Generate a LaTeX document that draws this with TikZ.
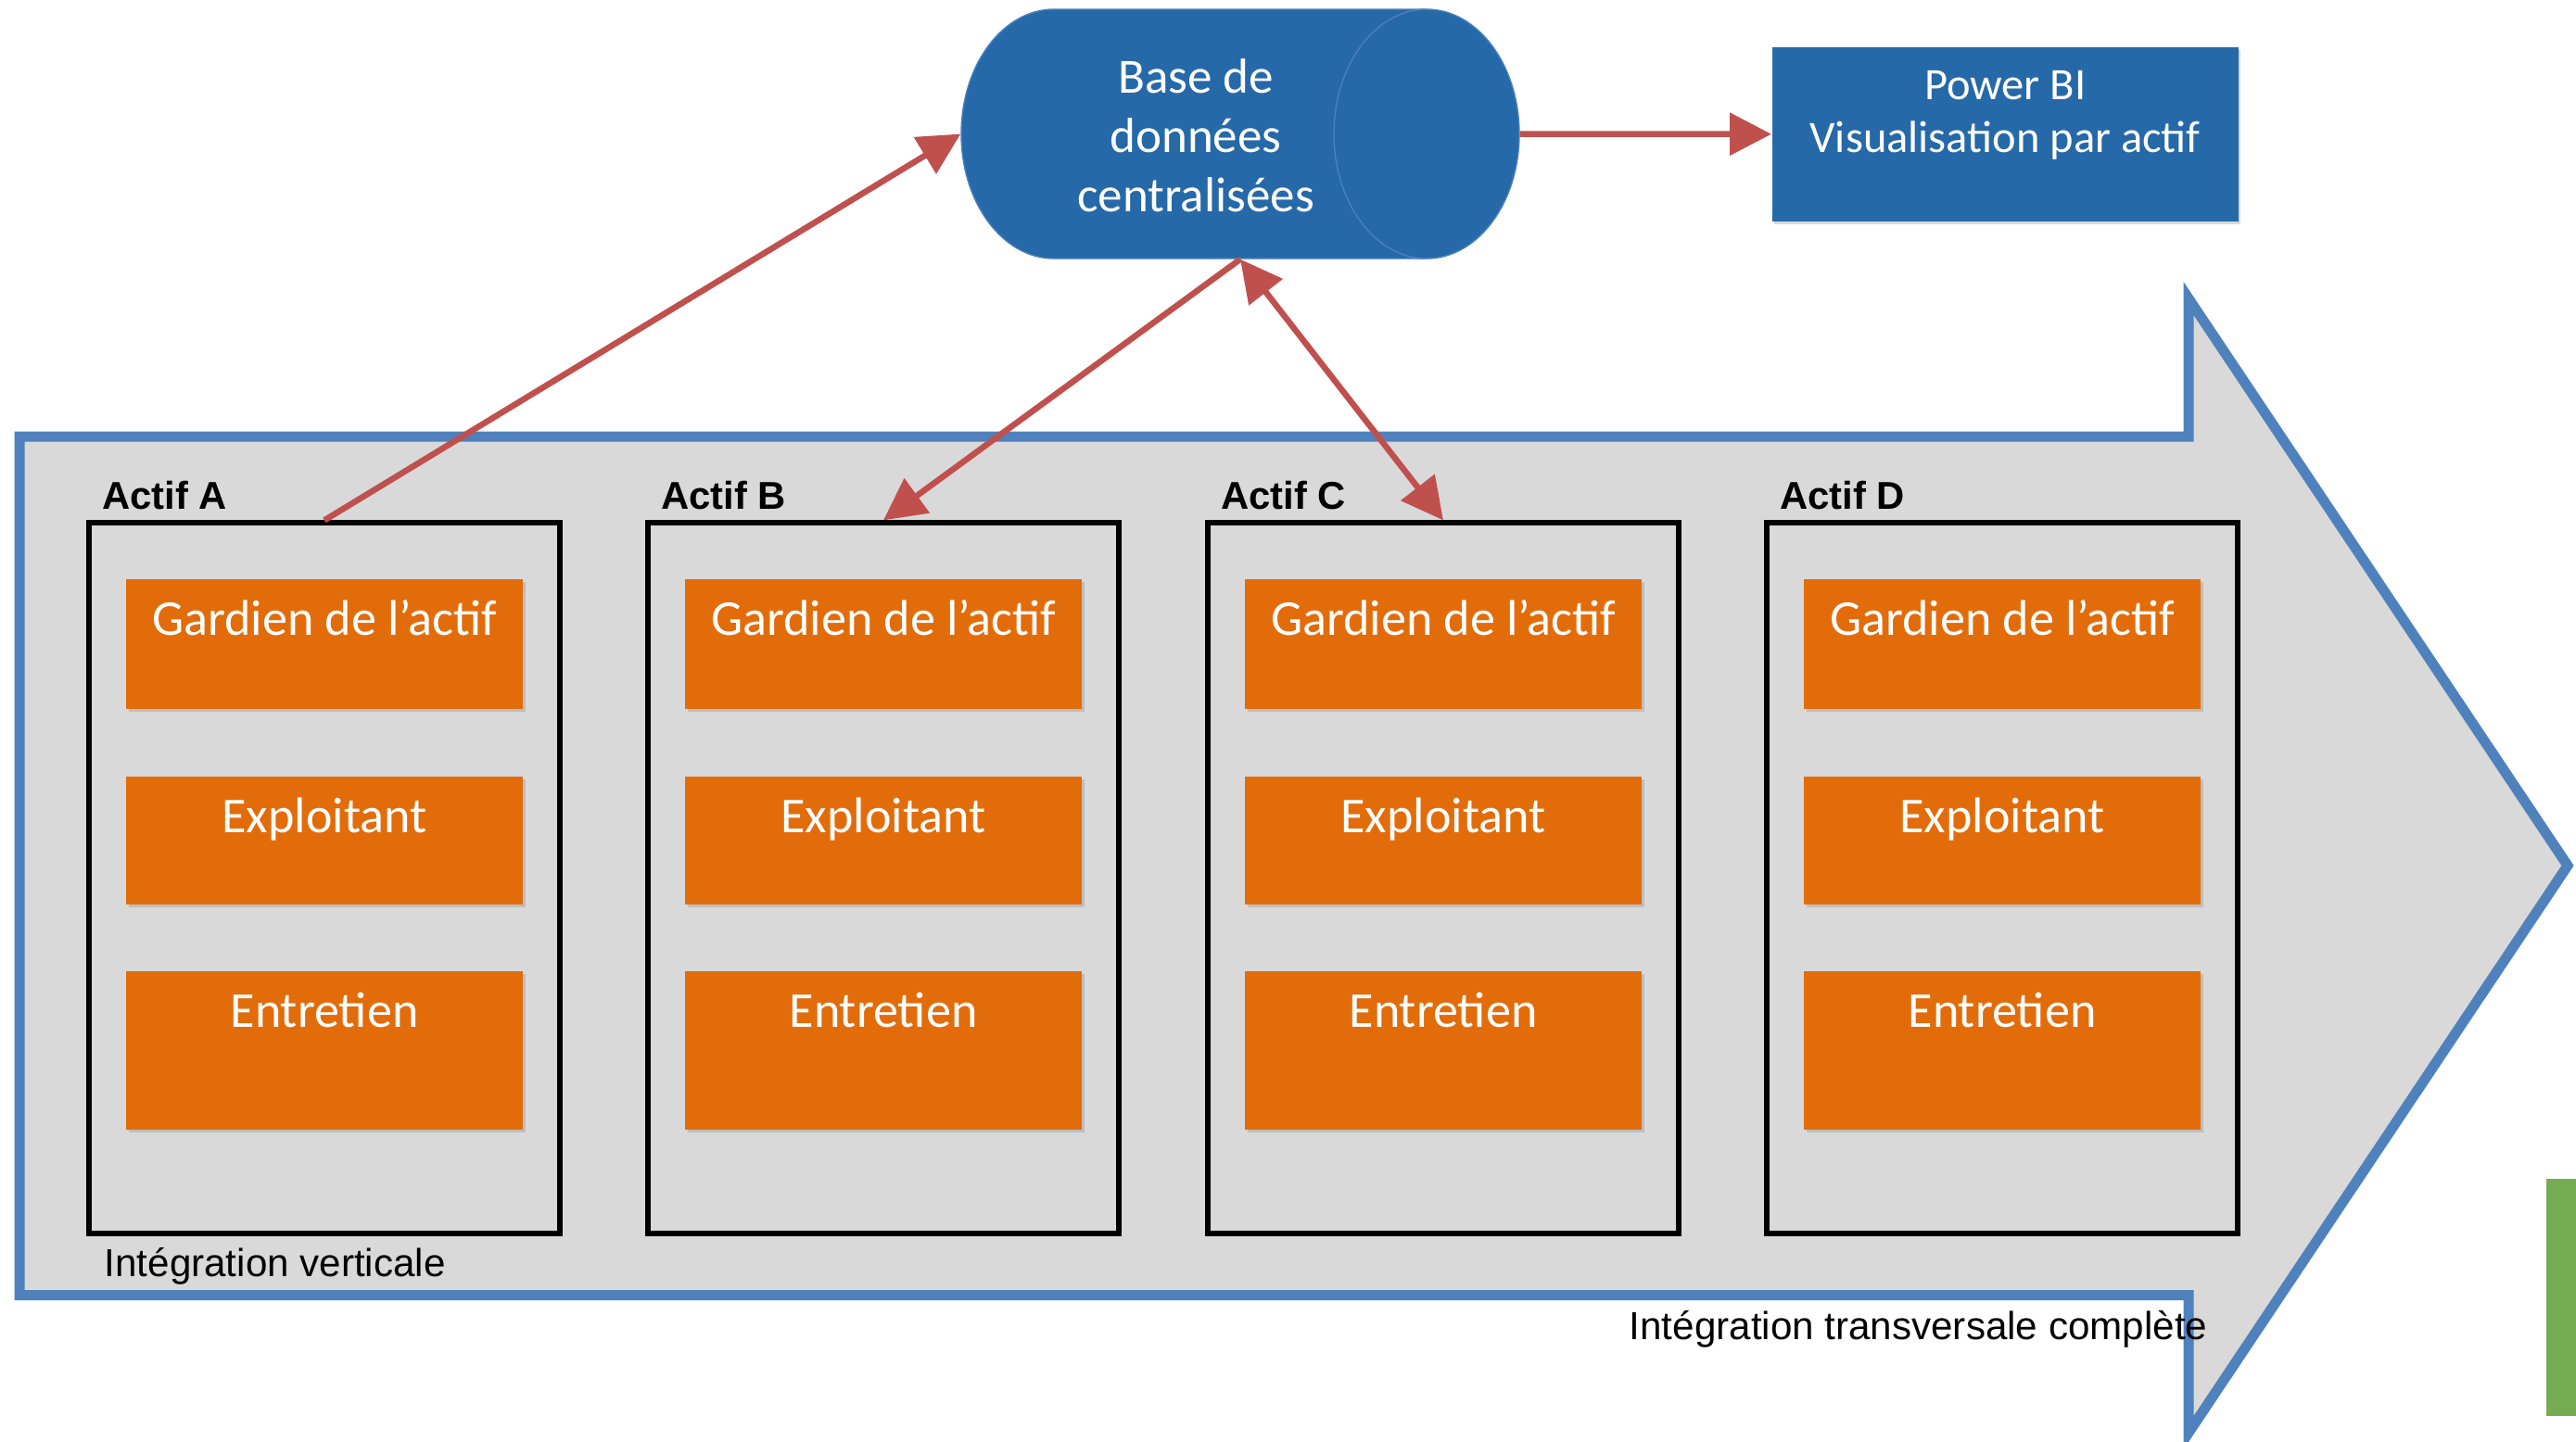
\documentclass[tikz,border=0pt]{standalone}
\usepackage{fontspec}
\setmainfont{Liberation Sans}
\newfontfamily\boxfont{Carlito}
\usetikzlibrary{arrows.meta,shadows}
\definecolor{dbblue}{HTML}{2669A8}
\definecolor{rimblue}{HTML}{4A80C0}
\definecolor{edgeblue}{HTML}{4F81BD}
\definecolor{linkred}{HTML}{C0504D}
\definecolor{roleorange}{HTML}{E36C0A}
\definecolor{panelgray}{HTML}{D9D9D9}
\definecolor{bargreen}{HTML}{75AC53}
\begin{document}
\begin{tikzpicture}[
  >={Triangle[length=0.45cm,width=0.45cm]},
  link/.style={draw=linkred, line width=0.065cm},
  soft/.style={drop shadow={shadow xshift=0.025cm, shadow yshift=-0.035cm, opacity=0.3}},
  actif/.style={draw=black, line width=0.053cm, minimum width=5.08cm, minimum height=7.67cm, inner sep=0pt},
  actiflabel/.style={anchor=base west, inner sep=0pt, font=\bfseries\fontsize{11.9}{14}\selectfont},
  role/.style={fill=roleorange, soft, text=white, anchor=north, minimum width=4.28cm, inner xsep=0pt,
    inner ysep=0.17cm, text height=0.44cm, text depth=#1, font=\boxfont\fontsize{15.4}{18}\selectfont},
  note/.style={anchor=base west, inner sep=0pt, font=\fontsize{12}{14}\selectfont}
]
\path[use as bounding box, fill=white] (0,0) rectangle (27.79,-15.55);
% flèche de fond
\draw[edgeblue, line width=0.11cm, fill=panelgray] (0.21,-4.71) -- (23.61,-4.71) -- (23.61,-3.22)
  -- (27.70,-9.34) -- (23.61,-15.46) -- (23.61,-13.975) -- (0.21,-13.975) -- cycle;
\fill[bargreen] (27.47,-12.72) rectangle (27.79,-15.28);
% cylindre
\draw[rimblue, line width=0.4pt, fill=dbblue] (11.37,-0.10) -- (15.39,-0.10)
  arc[start angle=90, end angle=-90, x radius=1.0, y radius=1.345] -- (11.37,-2.79)
  arc[start angle=270, end angle=90, x radius=1.0, y radius=1.345] -- cycle;
\draw[rimblue, line width=0.4pt] (15.39,-0.10) arc[start angle=90, end angle=270, x radius=1.0, y radius=1.345];

    \node[text=white, minimum width=6.02cm, minimum height=2.69cm, inner sep=0pt,
      font=\boxfont\fontsize{15.1}{18.2}\selectfont] (base) at (13.38,-1.445)
      {\raisebox{-0.07cm}[\height][\depth]{\begin{tabular}{@{}c@{}}Base de\\données\\centralisées\end{tabular}}\hspace*{0.96cm}};
    \node[fill=dbblue, soft, text=white, anchor=north west, align=center, minimum width=5.03cm,
      inner ysep=0.15cm, text height=0.99cm, text depth=0.59cm,
      font=\boxfont\fontsize{13.8}{16.4}\selectfont] (pbi) at (19.11,-0.50)
      {Power BI\\Visualisation par actif};

    \node[actif] (actA) at (3.50,-9.475) {};
    \node[actif] (actB) at (9.53,-9.475) {};
    \node[actif] (actC) at (15.57,-9.475) {};
    \node[actif] (actD) at (21.60,-9.475) {};
    \node[actiflabel] (labA) at ([xshift=0.16cm,yshift=0.12cm]actA.north west) {Actif A};
    \node[actiflabel] (labB) at ([xshift=0.16cm,yshift=0.12cm]actB.north west) {Actif B};
    \node[actiflabel] (labC) at ([xshift=0.16cm,yshift=0.12cm]actC.north west) {Actif C};
    \node[actiflabel] (labD) at ([xshift=0.16cm,yshift=0.12cm]actD.north west) {Actif D};

    \node[role=0.62cm] (gA) at (3.50,-6.24) {Gardien de l’actif};
    \node[role=0.60cm] (xA) at (3.50,-8.37) {Exploitant};
    \node[role=0.93cm] (eA) at (3.50,-10.47) {Entretien};
    \node[role=0.62cm] (gB) at (9.53,-6.24) {Gardien de l’actif};
    \node[role=0.60cm] (xB) at (9.53,-8.37) {Exploitant};
    \node[role=0.93cm] (eB) at (9.53,-10.47) {Entretien};
    \node[role=0.62cm] (gC) at (15.57,-6.24) {Gardien de l’actif};
    \node[role=0.60cm] (xC) at (15.57,-8.37) {Exploitant};
    \node[role=0.93cm] (eC) at (15.57,-10.47) {Entretien};
    \node[role=0.62cm] (gD) at (21.60,-6.24) {Gardien de l’actif};
    \node[role=0.60cm] (xD) at (21.60,-8.37) {Exploitant};
    \node[role=0.93cm] (eD) at (21.60,-10.47) {Entretien};

    \node[note] (vert) at (1.12,-13.77) {Intégration verticale};
    \node[note] (trans) at (17.57,-14.45) {Intégration transversale complète};

    \draw[link,->] (actA.north) -- (base.west);
    \draw[link,->] (base.south) -- (actB.north);
    \draw[link,<->] (base.south) -- (actC.north);
    \draw[link,->] (base.east) -- (pbi.west);
\end{tikzpicture}
\end{document}
